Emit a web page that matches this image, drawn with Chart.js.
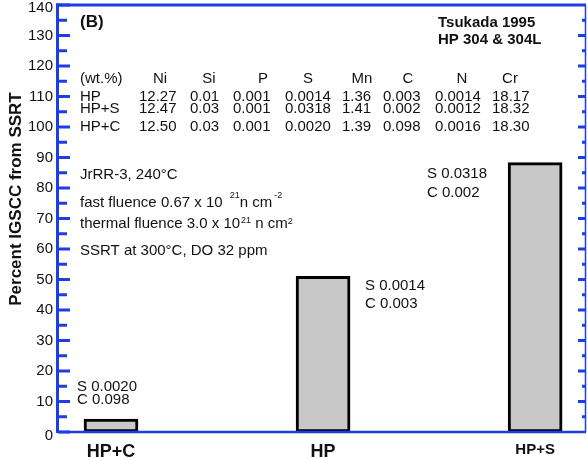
<!DOCTYPE html>
<html>
<head>
<meta charset="utf-8">
<script src="https://cdn.jsdelivr.net/npm/chart.js@4/dist/chart.umd.min.js"></script>
<style>
  body { margin: 0; background: #fff; }
  #wrap { width: 587px; height: 459px; position: relative; }
</style>
</head>
<body>
<div id="wrap"><canvas id="barChart"></canvas></div>
<script>
// Data
const categories = ['HP+C', 'HP', 'HP+S'];
const igscc = [4.2, 51, 88.3];
const yMin = 0, yMax = 140, yStep = 10;

const barNotes = [
	['S 0.0020', 'C 0.098'],
	['S 0.0014', 'C 0.003'],
	['S 0.0318', 'C 0.002']
];
const tableHeader = ['(wt.%)', 'Ni', 'Si', 'P', 'S', 'Mn', 'C', 'N', 'Cr'];
const tableHP  = ['HP',   '12.27', '0.01', '0.001', '0.0014', '1.36', '0.003', '0.0014', '18.17'];
const tableHPS = ['HP+S', '12.47', '0.03', '0.001', '0.0318', '1.41', '0.002', '0.0012', '18.32'];
const tableHPC = ['HP+C', '12.50', '0.03', '0.001', '0.0020', '1.39', '0.098', '0.0016', '18.30'];
const sourceLines = ['Tsukada 1995', 'HP 304 & 304L'];

const FONT = "'Liberation Sans', Arial, Helvetica, sans-serif";
const BLUE = '#1c3ee6';

// Frame, inward ticks and free text
const decorPlugin = {
	id: 'decor',
	afterDatasetsDraw(chart) {
		const ctx = chart.ctx;
		const a = chart.chartArea;
		const y = chart.scales.y;
		ctx.save();
		ctx.strokeStyle = BLUE;
		ctx.lineCap = 'butt';

		// left axis + ticks
		ctx.lineWidth = 3;
		ctx.beginPath();
		ctx.moveTo(a.left - 0.5, a.top - 1.5);
		ctx.lineTo(a.left - 0.5, a.bottom + 1);
		ctx.stroke();
		for (let v = yMin; v <= yMax; v += yStep / 2) {
			const py = y.getPixelForValue(v);
			const len = (v % yStep === 0) ? 12 : 9;
			ctx.beginPath();
			ctx.moveTo(a.left, py);
			ctx.lineTo(a.left + len, py);
			ctx.stroke();
		}
		// top line
		ctx.beginPath();
		ctx.moveTo(a.left - 2, a.top);
		ctx.lineTo(a.right, a.top);
		ctx.stroke();
		// right axis + ticks
		ctx.lineWidth = 1.5;
		ctx.beginPath();
		ctx.moveTo(a.right - 0.5, a.top);
		ctx.lineTo(a.right - 0.5, a.bottom);
		ctx.stroke();
		ctx.lineWidth = 3;
		for (let v = yMin + yStep / 2; v < yMax; v += yStep / 2) {
			const py = y.getPixelForValue(v);
			const len = (v % yStep === 0) ? 8 : 4;
			ctx.beginPath();
			ctx.moveTo(a.right, py);
			ctx.lineTo(a.right - len, py);
			ctx.stroke();
		}
		// bottom line
		ctx.lineWidth = 2.5;
		ctx.beginPath();
		ctx.moveTo(a.left, a.bottom);
		ctx.lineTo(a.right, a.bottom);
		ctx.stroke();

		// texts
		ctx.fillStyle = '#111';
		ctx.textBaseline = 'middle';
		ctx.textAlign = 'left';

		ctx.font = 'bold 17px ' + FONT;
		ctx.fillText('(B)', 80, 22);
		ctx.font = 'bold 15px ' + FONT;
		ctx.fillText(sourceLines[0], 438, 23);
		ctx.fillText(sourceLines[1], 438, 40);

		// composition table
		ctx.font = '15px ' + FONT;
		const headX = [80, 160, 209, 263, 308, 362, 408, 462, 510];
		const colX = [80, 139, 190, 233, 285, 342, 383, 435, 492];
		tableHeader.forEach((t, i) => {
			ctx.textAlign = i === 0 ? 'left' : 'center';
			ctx.fillText(t, headX[i], 79);
		});
		ctx.textAlign = 'left';
		[[tableHP, 97], [tableHPS, 109], [tableHPC, 127]].forEach(([row, ry]) => {
			row.forEach((t, i) => ctx.fillText(t, colX[i], ry));
		});

		// irradiation notes
		ctx.fillText('JrRR-3, 240°C', 80, 175);
		let x = 80;
		const sup = (s, sx, sy) => {
			ctx.font = '9px ' + FONT;
			ctx.fillText(s, sx, sy);
			const w = ctx.measureText(s).width;
			ctx.font = '15px ' + FONT;
			return w;
		};
		let t = 'fast fluence 0.67 x 10 ';
		ctx.fillText(t, x, 203); x += ctx.measureText(t).width + 3;
		x += sup('21', x, 196);
		t = 'n cm';
		ctx.fillText(t, x, 203); x += ctx.measureText(t).width + 2;
		sup('-2', x, 196);

		x = 80;
		t = 'thermal fluence 3.0 x 10';
		ctx.fillText(t, x, 224); x += ctx.measureText(t).width + 1;
		x += sup('21', x, 221);
		t = ' n cm';
		ctx.fillText(t, x, 224); x += ctx.measureText(t).width;
		sup('2', x, 222);

		ctx.fillText('SSRT at 300°C, DO 32 ppm', 80, 251);

		// bar notes
		const notePos = [[77, 387, 400], [365, 286, 304], [427, 174, 193]];
		barNotes.forEach((n, i) => {
			ctx.fillText(n[0], notePos[i][0], notePos[i][1]);
			ctx.fillText(n[1], notePos[i][0], notePos[i][2]);
		});

		// y title
		ctx.save();
		ctx.translate(16, 199);
		ctx.rotate(-Math.PI / 2);
		ctx.textAlign = 'center';
		ctx.font = 'bold 17px ' + FONT;
		ctx.fillText('Percent IGSCC from SSRT', 0, 0);
		ctx.restore();

		ctx.restore();
	}
};

const barCanvas = document.getElementById('barChart');

new Chart(barCanvas, {
	type: 'bar',
	data: {
		datasets: [{
			data: igscc.map((v, i) => ({ x: i, y: v })),
			backgroundColor: '#c8c8c8',
			borderColor: '#000',
			borderWidth: 3,
			borderSkipped: false,
			barThickness: 54
		}]
	},
	options: {
		responsive: true,
		maintainAspectRatio: false,
		animation: false,
		layout: { padding: { top: 5, right: 1, left: 0, bottom: 0 } },
		plugins: {
			legend: { display: false },
			tooltip: { enabled: false }
		},
		scales: {
			x: {
				type: 'linear',
				min: -0.25,
				max: 2.24,
				offset: false,
				grid: { display: false, drawTicks: false, offset: false },
				border: { display: false },
				afterBuildTicks: (scale) => {
					scale.ticks = categories.map((c, i) => ({ value: i }));
				},
				afterFit: (scale) => {
					scale.height = 27;
					scale.paddingLeft = 0;
					scale.paddingRight = 0;
				},
				ticks: {
					autoSkip: false,
					maxRotation: 0,
					padding: 9,
					color: '#111',
					callback: (v) => categories[v],
					font: (c) => ({
						family: FONT,
						weight: 'bold',
						size: c.index === 2 ? 15 : 18
					})
				}
			},
			y: {
				min: yMin,
				max: yMax,
				grid: { display: false, drawTicks: false },
				border: { display: false },
				afterFit: (scale) => {
					scale.width = 58;
					scale.paddingTop = 0;
					scale.paddingBottom = 0;
				},
				ticks: {
					stepSize: yStep,
					padding: 5,
					color: '#111',
					// end labels sit a little inside the frame, as in the original
					callback: (v) => (v === yMax || v === yMin) ? ['', String(v)] : v,
					font: (c) => {
						const v = c.tick ? c.tick.value : null;
						if (v === yMax) return { family: FONT, size: 15, lineHeight: 0.4 };
						if (v === yMin) return { family: FONT, size: 15, lineHeight: 0.5 };
						return { family: FONT, size: 15 };
					}
				}
			}
		}
	},
	plugins: [decorPlugin]
});
</script>
</body>
</html>
